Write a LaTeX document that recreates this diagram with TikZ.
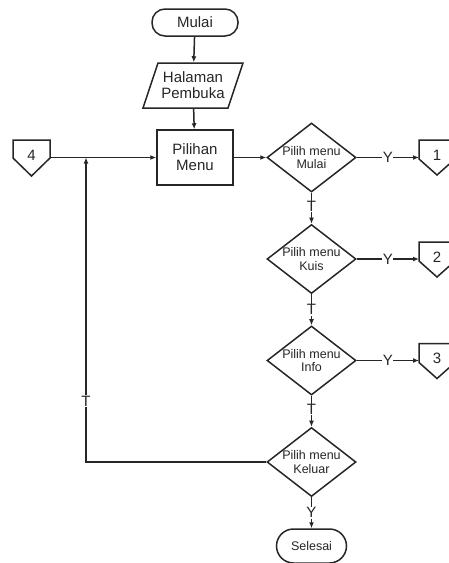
\documentclass[tikz,border=0pt]{standalone}
\usepackage{fontspec}
\setmainfont{Liberation Sans}
\usetikzlibrary{shapes.geometric,arrows.meta}
\begin{document}
\begin{tikzpicture}[x=1pt,y=-1pt,
  line width=1.5pt, color=black!85, text=black!85,
  big/.style={font=\fontsize{15}{16}\selectfont, align=center},
  small/.style={font=\fontsize{12.5}{13.5}\selectfont, align=center},
  term/.style={draw, rounded corners=13pt, inner sep=0pt},
  procbox/.style={draw, big, minimum width=76, minimum height=55, inner sep=0pt},
  decide/.style={draw, diamond, small, minimum width=89, minimum height=67, inner sep=-3pt},
  flow/.style={-{Latex[length=6pt,width=5pt]}},
  lbl/.style={big, fill=white, inner sep=0.6pt},
  conn/.style={draw, line join=miter}
]
\useasboundingbox (0,0) rectangle (449,563);

% terminals
\node[term, big, minimum width=86, minimum height=27] (start) at (195,22.5) {Mulai};
\node[term, small, rounded corners=17pt, minimum width=70, minimum height=34] (stop) at (311.5,546) {Selesai};

% input parallelogram
\draw (143,108) -- (158,63) -- (243,63) -- (228,108) -- cycle;
\node[big, minimum width=85, minimum height=45, inner sep=0pt] (hp) at (193,85.5) {Halaman\\Pembuka};

% process
\node[procbox] (menu) at (195,157.5) {Pilihan\\Menu};

% decisions
\node[decide] (d1) at (311.5,157.5) {Pilih menu\\Mulai};
\node[decide] (d2) at (311.5,259) {Pilih menu\\Kuis};
\node[decide] (d3) at (311.5,360.5) {Pilih menu\\Info};
\node[decide] (d4) at (311.5,462) {Pilih menu\\Keluar};

% off-page connectors
\draw[conn] (13,140) -- (50,140) -- (50,158) -- (31.5,176) -- (13,158) -- cycle;
\node[big] (c4) at (31.5,155) {4};
\draw[conn] (419,140) -- (455,140) -- (455,159) -- (437,175) -- (419,159) -- cycle;
\node[big] (c1) at (437,155) {1};
\draw[conn] (419,242) -- (455,242) -- (455,261) -- (437,277) -- (419,261) -- cycle;
\node[big] (c2) at (437,257) {2};
\draw[conn] (419,343.5) -- (455,343.5) -- (455,362.5) -- (437,378.5) -- (419,362.5) -- cycle;
\node[big] (c3) at (437,358.5) {3};

\coordinate (c4e) at (50,157.5);
\coordinate (c1w) at (419,157.5);
\coordinate (c2w) at (419,259);
\coordinate (c3w) at (419,360.5);
\coordinate (j) at (86,157.5);

% connectors
\draw[flow] (start) -- (hp);
\draw[flow] (hp) -- (menu);
\draw[flow] (c4e) -- (menu);
\draw[flow] (menu) -- (d1);
\draw[flow] (d1) -- node[lbl]{Y} (c1w);
\draw[flow] (d2) -- node[lbl]{Y} (c2w);
\draw[flow] (d3) -- node[lbl]{Y} (c3w);
\draw[flow] (d1) -- node[lbl,pos=0.45]{T} (d2);
\draw[flow] (d2) -- node[lbl,pos=0.5]{T} (d3);
\draw[flow] (d3) -- node[lbl,pos=0.45]{T} (d4);
\draw[flow] (d4) -- node[lbl]{Y} (stop);
\draw[flow] (d4.west) -| node[lbl,pos=0.6]{T} (j);
\end{tikzpicture}
\end{document}
